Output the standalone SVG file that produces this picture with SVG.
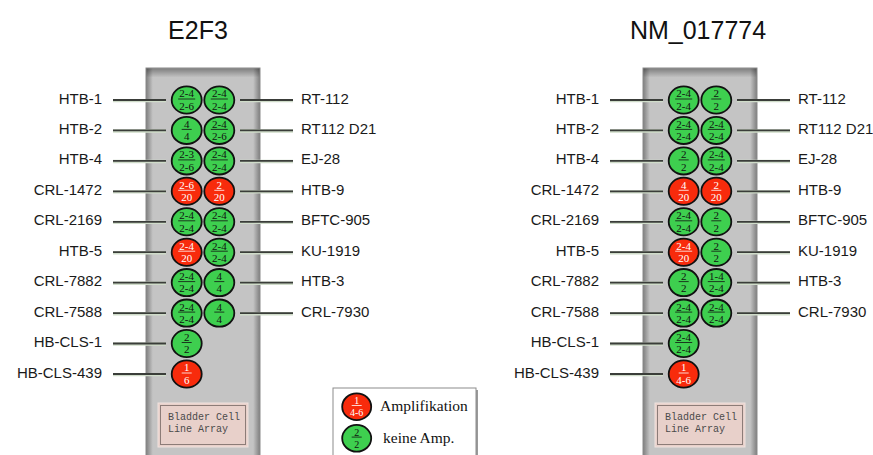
<svg xmlns="http://www.w3.org/2000/svg" width="873" height="455" viewBox="0 0 873 455">
  <defs>
    <linearGradient id="panelH" x1="0" y1="0" x2="1" y2="0">
      <stop offset="0" stop-color="#7e7e7e"/>
      <stop offset="0.06" stop-color="#c4c4c4"/>
      <stop offset="0.94" stop-color="#c4c4c4"/>
      <stop offset="1" stop-color="#7e7e7e"/>
    </linearGradient>
    <linearGradient id="panelTop" x1="0" y1="0" x2="0" y2="1">
      <stop offset="0" stop-color="#000" stop-opacity="0.35"/>
      <stop offset="1" stop-color="#000" stop-opacity="0"/>
    </linearGradient>
    <style>
      .title{font-family:"Liberation Sans",Arial,sans-serif;font-size:25px;fill:#111;text-anchor:middle}
      .lbl{font-family:"Liberation Sans",Arial,sans-serif;font-size:15px;fill:#1a1a1a}
      .lblL{text-anchor:end}
      .panel{fill:url(#panelH);stroke:#8a8a8a;stroke-width:1}
      .conn line{stroke:#cfdcc9;stroke-width:3.4}
      .conn line.core{stroke:#3a3d39;stroke-width:1.8}
      .cell ellipse{stroke:#111;stroke-width:1.8}
      .cell text{font-family:"Liberation Serif","Times New Roman",serif;font-size:11px;text-anchor:middle;fill:#111}
      .cell line{stroke:#111;stroke-width:0.8}
      .g ellipse{fill:#3ecf4f}
      .r ellipse{fill:#f82b0c}
      .r text{fill:#fff}
      .r line{stroke:#fff}
      .legend .cell text{font-size:10px}
      .tag rect.o{fill:#e8d0ca;stroke:#f0e2de;stroke-width:1}
      .tag rect.i{fill:none;stroke:#8c7c78;stroke-width:1}
      .tag text{font-family:"Liberation Mono","Courier New",monospace;font-size:10px;fill:#4a4a4a}
      .legend text.key{font-family:"Liberation Serif","Times New Roman",serif;font-size:15.5px;fill:#111}
    </style>
  </defs>

  <rect width="873" height="455" fill="#fff"/>

  <!-- titles -->
  <text class="title" x="198" y="39">E2F3</text>
  <text class="title" x="698" y="39">NM_017774</text>

  <!-- array strips -->
  <g id="panel-e2f3">
    <rect class="panel" x="146" y="68" width="114" height="400"/>
    <rect x="146.5" y="68.5" width="113" height="9" fill="url(#panelTop)"/>
  </g>
  <g id="panel-nm017774">
    <rect class="panel" x="643" y="68" width="114" height="400"/>
    <rect x="643.5" y="68.5" width="113" height="9" fill="url(#panelTop)"/>
  </g>

  <!-- connectors: cell-line names to their spots -->
  <g id="connectors" class="conn">
    <!-- E2F3, left column -->
    <line x1="113" y1="100.6" x2="166" y2="100.6"/><line class="core" x1="113" y1="100" x2="166" y2="100"/>
    <line x1="113" y1="131" x2="166" y2="131"/><line class="core" x1="113" y1="130.4" x2="166" y2="130.4"/>
    <line x1="113" y1="161.5" x2="166" y2="161.5"/><line class="core" x1="113" y1="160.9" x2="166" y2="160.9"/>
    <line x1="113" y1="191.9" x2="166" y2="191.9"/><line class="core" x1="113" y1="191.3" x2="166" y2="191.3"/>
    <line x1="113" y1="222.4" x2="166" y2="222.4"/><line class="core" x1="113" y1="221.8" x2="166" y2="221.8"/>
    <line x1="113" y1="252.8" x2="166" y2="252.8"/><line class="core" x1="113" y1="252.2" x2="166" y2="252.2"/>
    <line x1="113" y1="283.2" x2="166" y2="283.2"/><line class="core" x1="113" y1="282.6" x2="166" y2="282.6"/>
    <line x1="113" y1="313.7" x2="166" y2="313.7"/><line class="core" x1="113" y1="313.1" x2="166" y2="313.1"/>
    <line x1="113" y1="344.1" x2="166" y2="344.1"/><line class="core" x1="113" y1="343.5" x2="166" y2="343.5"/>
    <line x1="113" y1="374.6" x2="166" y2="374.6"/><line class="core" x1="113" y1="374" x2="166" y2="374"/>
    <!-- E2F3, right column -->
    <line x1="240" y1="100.6" x2="293" y2="100.6"/><line class="core" x1="240" y1="100" x2="293" y2="100"/>
    <line x1="240" y1="131" x2="293" y2="131"/><line class="core" x1="240" y1="130.4" x2="293" y2="130.4"/>
    <line x1="240" y1="161.5" x2="293" y2="161.5"/><line class="core" x1="240" y1="160.9" x2="293" y2="160.9"/>
    <line x1="240" y1="191.9" x2="293" y2="191.9"/><line class="core" x1="240" y1="191.3" x2="293" y2="191.3"/>
    <line x1="240" y1="222.4" x2="293" y2="222.4"/><line class="core" x1="240" y1="221.8" x2="293" y2="221.8"/>
    <line x1="240" y1="252.8" x2="293" y2="252.8"/><line class="core" x1="240" y1="252.2" x2="293" y2="252.2"/>
    <line x1="240" y1="283.2" x2="293" y2="283.2"/><line class="core" x1="240" y1="282.6" x2="293" y2="282.6"/>
    <line x1="240" y1="313.7" x2="293" y2="313.7"/><line class="core" x1="240" y1="313.1" x2="293" y2="313.1"/>
    <!-- NM_017774, left column -->
    <line x1="610" y1="100.6" x2="663" y2="100.6"/><line class="core" x1="610" y1="100" x2="663" y2="100"/>
    <line x1="610" y1="131" x2="663" y2="131"/><line class="core" x1="610" y1="130.4" x2="663" y2="130.4"/>
    <line x1="610" y1="161.5" x2="663" y2="161.5"/><line class="core" x1="610" y1="160.9" x2="663" y2="160.9"/>
    <line x1="610" y1="191.9" x2="663" y2="191.9"/><line class="core" x1="610" y1="191.3" x2="663" y2="191.3"/>
    <line x1="610" y1="222.4" x2="663" y2="222.4"/><line class="core" x1="610" y1="221.8" x2="663" y2="221.8"/>
    <line x1="610" y1="252.8" x2="663" y2="252.8"/><line class="core" x1="610" y1="252.2" x2="663" y2="252.2"/>
    <line x1="610" y1="283.2" x2="663" y2="283.2"/><line class="core" x1="610" y1="282.6" x2="663" y2="282.6"/>
    <line x1="610" y1="313.7" x2="663" y2="313.7"/><line class="core" x1="610" y1="313.1" x2="663" y2="313.1"/>
    <line x1="610" y1="344.1" x2="663" y2="344.1"/><line class="core" x1="610" y1="343.5" x2="663" y2="343.5"/>
    <line x1="610" y1="374.6" x2="663" y2="374.6"/><line class="core" x1="610" y1="374" x2="663" y2="374"/>
    <!-- NM_017774, right column -->
    <line x1="737" y1="100.6" x2="790" y2="100.6"/><line class="core" x1="737" y1="100" x2="790" y2="100"/>
    <line x1="737" y1="131" x2="790" y2="131"/><line class="core" x1="737" y1="130.4" x2="790" y2="130.4"/>
    <line x1="737" y1="161.5" x2="790" y2="161.5"/><line class="core" x1="737" y1="160.9" x2="790" y2="160.9"/>
    <line x1="737" y1="191.9" x2="790" y2="191.9"/><line class="core" x1="737" y1="191.3" x2="790" y2="191.3"/>
    <line x1="737" y1="222.4" x2="790" y2="222.4"/><line class="core" x1="737" y1="221.8" x2="790" y2="221.8"/>
    <line x1="737" y1="252.8" x2="790" y2="252.8"/><line class="core" x1="737" y1="252.2" x2="790" y2="252.2"/>
    <line x1="737" y1="283.2" x2="790" y2="283.2"/><line class="core" x1="737" y1="282.6" x2="790" y2="282.6"/>
    <line x1="737" y1="313.7" x2="790" y2="313.7"/><line class="core" x1="737" y1="313.1" x2="790" y2="313.1"/>
  </g>

  <!-- cell-line names -->
  <g id="labels-e2f3">
    <text class="lbl lblL" x="102" y="103.5">HTB-1</text>
    <text class="lbl lblL" x="102" y="133.9">HTB-2</text>
    <text class="lbl lblL" x="102" y="164.4">HTB-4</text>
    <text class="lbl lblL" x="102" y="194.8">CRL-1472</text>
    <text class="lbl lblL" x="102" y="225.3">CRL-2169</text>
    <text class="lbl lblL" x="102" y="255.7">HTB-5</text>
    <text class="lbl lblL" x="102" y="286.1">CRL-7882</text>
    <text class="lbl lblL" x="102" y="316.6">CRL-7588</text>
    <text class="lbl lblL" x="102" y="347">HB-CLS-1</text>
    <text class="lbl lblL" x="102" y="377.5">HB-CLS-439</text>
    <text class="lbl" x="301" y="103.5">RT-112</text>
    <text class="lbl" x="301" y="133.9">RT112 D21</text>
    <text class="lbl" x="301" y="164.4">EJ-28</text>
    <text class="lbl" x="301" y="194.8">HTB-9</text>
    <text class="lbl" x="301" y="225.3">BFTC-905</text>
    <text class="lbl" x="301" y="255.7">KU-1919</text>
    <text class="lbl" x="301" y="286.1">HTB-3</text>
    <text class="lbl" x="301" y="316.6">CRL-7930</text>
  </g>
  <g id="labels-nm017774">
    <text class="lbl lblL" x="599" y="103.5">HTB-1</text>
    <text class="lbl lblL" x="599" y="133.9">HTB-2</text>
    <text class="lbl lblL" x="599" y="164.4">HTB-4</text>
    <text class="lbl lblL" x="599" y="194.8">CRL-1472</text>
    <text class="lbl lblL" x="599" y="225.3">CRL-2169</text>
    <text class="lbl lblL" x="599" y="255.7">HTB-5</text>
    <text class="lbl lblL" x="599" y="286.1">CRL-7882</text>
    <text class="lbl lblL" x="599" y="316.6">CRL-7588</text>
    <text class="lbl lblL" x="599" y="347">HB-CLS-1</text>
    <text class="lbl lblL" x="599" y="377.5">HB-CLS-439</text>
    <text class="lbl" x="798" y="103.5">RT-112</text>
    <text class="lbl" x="798" y="133.9">RT112 D21</text>
    <text class="lbl" x="798" y="164.4">EJ-28</text>
    <text class="lbl" x="798" y="194.8">HTB-9</text>
    <text class="lbl" x="798" y="225.3">BFTC-905</text>
    <text class="lbl" x="798" y="255.7">KU-1919</text>
    <text class="lbl" x="798" y="286.1">HTB-3</text>
    <text class="lbl" x="798" y="316.6">CRL-7930</text>
  </g>

  <!-- E2F3 spots: copy-number fractions -->
  <g id="e2f3-htb-1" class="cell g" transform="translate(186.7,100)"><ellipse rx="15" ry="13.6"/><text y="-2.6">2-4</text><line x1="-8.5" y1="-1" x2="8.5" y2="-1"/><text y="9.8">2-6</text></g>
  <g id="e2f3-htb-2" class="cell g" transform="translate(186.7,130.4)"><ellipse rx="15" ry="13.6"/><text y="-2.6">4</text><line x1="-5" y1="-1" x2="5" y2="-1"/><text y="9.8">4</text></g>
  <g id="e2f3-htb-4" class="cell g" transform="translate(186.7,160.9)"><ellipse rx="15" ry="13.6"/><text y="-2.6">2-3</text><line x1="-8.5" y1="-1" x2="8.5" y2="-1"/><text y="9.8">2-6</text></g>
  <g id="e2f3-crl-1472" class="cell r" transform="translate(186.7,191.3)"><ellipse rx="15" ry="13.6"/><text y="-2.6">2-6</text><line x1="-8.5" y1="-1" x2="8.5" y2="-1"/><text y="9.8">20</text></g>
  <g id="e2f3-crl-2169" class="cell g" transform="translate(186.7,221.8)"><ellipse rx="15" ry="13.6"/><text y="-2.6">2-4</text><line x1="-8.5" y1="-1" x2="8.5" y2="-1"/><text y="9.8">2-4</text></g>
  <g id="e2f3-htb-5" class="cell r" transform="translate(186.7,252.2)"><ellipse rx="15" ry="13.6"/><text y="-2.6">2-4</text><line x1="-8.5" y1="-1" x2="8.5" y2="-1"/><text y="9.8">20</text></g>
  <g id="e2f3-crl-7882" class="cell g" transform="translate(186.7,282.6)"><ellipse rx="15" ry="13.6"/><text y="-2.6">2-4</text><line x1="-8.5" y1="-1" x2="8.5" y2="-1"/><text y="9.8">2-4</text></g>
  <g id="e2f3-crl-7588" class="cell g" transform="translate(186.7,313.1)"><ellipse rx="15" ry="13.6"/><text y="-2.6">2-4</text><line x1="-8.5" y1="-1" x2="8.5" y2="-1"/><text y="9.8">2-4</text></g>
  <g id="e2f3-hb-cls-1" class="cell g" transform="translate(186.7,343.5)"><ellipse rx="15" ry="13.6"/><text y="-2.6">2</text><line x1="-5" y1="-1" x2="5" y2="-1"/><text y="9.8">2</text></g>
  <g id="e2f3-hb-cls-439" class="cell r" transform="translate(186.7,374)"><ellipse rx="15" ry="13.6"/><text y="-2.6">1</text><line x1="-5" y1="-1" x2="5" y2="-1"/><text y="9.8">6</text></g>
  <g id="e2f3-rt-112" class="cell g" transform="translate(219.3,100)"><ellipse rx="15" ry="13.6"/><text y="-2.6">2-4</text><line x1="-8.5" y1="-1" x2="8.5" y2="-1"/><text y="9.8">2-4</text></g>
  <g id="e2f3-rt112-d21" class="cell g" transform="translate(219.3,130.4)"><ellipse rx="15" ry="13.6"/><text y="-2.6">2-4</text><line x1="-8.5" y1="-1" x2="8.5" y2="-1"/><text y="9.8">2-6</text></g>
  <g id="e2f3-ej-28" class="cell g" transform="translate(219.3,160.9)"><ellipse rx="15" ry="13.6"/><text y="-2.6">2-4</text><line x1="-8.5" y1="-1" x2="8.5" y2="-1"/><text y="9.8">2-4</text></g>
  <g id="e2f3-htb-9" class="cell r" transform="translate(219.3,191.3)"><ellipse rx="15" ry="13.6"/><text y="-2.6">2</text><line x1="-5" y1="-1" x2="5" y2="-1"/><text y="9.8">20</text></g>
  <g id="e2f3-bftc-905" class="cell g" transform="translate(219.3,221.8)"><ellipse rx="15" ry="13.6"/><text y="-2.6">2-4</text><line x1="-8.5" y1="-1" x2="8.5" y2="-1"/><text y="9.8">2-4</text></g>
  <g id="e2f3-ku-1919" class="cell g" transform="translate(219.3,252.2)"><ellipse rx="15" ry="13.6"/><text y="-2.6">2-4</text><line x1="-8.5" y1="-1" x2="8.5" y2="-1"/><text y="9.8">2-4</text></g>
  <g id="e2f3-htb-3" class="cell g" transform="translate(219.3,282.6)"><ellipse rx="15" ry="13.6"/><text y="-2.6">4</text><line x1="-5" y1="-1" x2="5" y2="-1"/><text y="9.8">4</text></g>
  <g id="e2f3-crl-7930" class="cell g" transform="translate(219.3,313.1)"><ellipse rx="15" ry="13.6"/><text y="-2.6">4</text><line x1="-5" y1="-1" x2="5" y2="-1"/><text y="9.8">4</text></g>

  <!-- NM_017774 spots -->
  <g id="nm-htb-1" class="cell g" transform="translate(683.7,100)"><ellipse rx="15" ry="13.6"/><text y="-2.6">2-4</text><line x1="-8.5" y1="-1" x2="8.5" y2="-1"/><text y="9.8">2-4</text></g>
  <g id="nm-htb-2" class="cell g" transform="translate(683.7,130.4)"><ellipse rx="15" ry="13.6"/><text y="-2.6">2-4</text><line x1="-8.5" y1="-1" x2="8.5" y2="-1"/><text y="9.8">2-4</text></g>
  <g id="nm-htb-4" class="cell g" transform="translate(683.7,160.9)"><ellipse rx="15" ry="13.6"/><text y="-2.6">2</text><line x1="-5" y1="-1" x2="5" y2="-1"/><text y="9.8">2</text></g>
  <g id="nm-crl-1472" class="cell r" transform="translate(683.7,191.3)"><ellipse rx="15" ry="13.6"/><text y="-2.6">4</text><line x1="-5" y1="-1" x2="5" y2="-1"/><text y="9.8">20</text></g>
  <g id="nm-crl-2169" class="cell g" transform="translate(683.7,221.8)"><ellipse rx="15" ry="13.6"/><text y="-2.6">2-4</text><line x1="-8.5" y1="-1" x2="8.5" y2="-1"/><text y="9.8">2-4</text></g>
  <g id="nm-htb-5" class="cell r" transform="translate(683.7,252.2)"><ellipse rx="15" ry="13.6"/><text y="-2.6">2-4</text><line x1="-8.5" y1="-1" x2="8.5" y2="-1"/><text y="9.8">20</text></g>
  <g id="nm-crl-7882" class="cell g" transform="translate(683.7,282.6)"><ellipse rx="15" ry="13.6"/><text y="-2.6">2</text><line x1="-5" y1="-1" x2="5" y2="-1"/><text y="9.8">2</text></g>
  <g id="nm-crl-7588" class="cell g" transform="translate(683.7,313.1)"><ellipse rx="15" ry="13.6"/><text y="-2.6">2-4</text><line x1="-8.5" y1="-1" x2="8.5" y2="-1"/><text y="9.8">2-4</text></g>
  <g id="nm-hb-cls-1" class="cell g" transform="translate(683.7,343.5)"><ellipse rx="15" ry="13.6"/><text y="-2.6">2-4</text><line x1="-8.5" y1="-1" x2="8.5" y2="-1"/><text y="9.8">2-4</text></g>
  <g id="nm-hb-cls-439" class="cell r" transform="translate(683.7,374)"><ellipse rx="15" ry="13.6"/><text y="-2.6">1</text><line x1="-5" y1="-1" x2="5" y2="-1"/><text y="9.8">4-6</text></g>
  <g id="nm-rt-112" class="cell g" transform="translate(716.3,100)"><ellipse rx="15" ry="13.6"/><text y="-2.6">2</text><line x1="-5" y1="-1" x2="5" y2="-1"/><text y="9.8">2</text></g>
  <g id="nm-rt112-d21" class="cell g" transform="translate(716.3,130.4)"><ellipse rx="15" ry="13.6"/><text y="-2.6">2-4</text><line x1="-8.5" y1="-1" x2="8.5" y2="-1"/><text y="9.8">2-4</text></g>
  <g id="nm-ej-28" class="cell g" transform="translate(716.3,160.9)"><ellipse rx="15" ry="13.6"/><text y="-2.6">2-4</text><line x1="-8.5" y1="-1" x2="8.5" y2="-1"/><text y="9.8">2-4</text></g>
  <g id="nm-htb-9" class="cell r" transform="translate(716.3,191.3)"><ellipse rx="15" ry="13.6"/><text y="-2.6">2</text><line x1="-5" y1="-1" x2="5" y2="-1"/><text y="9.8">20</text></g>
  <g id="nm-bftc-905" class="cell g" transform="translate(716.3,221.8)"><ellipse rx="15" ry="13.6"/><text y="-2.6">2</text><line x1="-5" y1="-1" x2="5" y2="-1"/><text y="9.8">2</text></g>
  <g id="nm-ku-1919" class="cell g" transform="translate(716.3,252.2)"><ellipse rx="15" ry="13.6"/><text y="-2.6">2</text><line x1="-5" y1="-1" x2="5" y2="-1"/><text y="9.8">2</text></g>
  <g id="nm-htb-3" class="cell g" transform="translate(716.3,282.6)"><ellipse rx="15" ry="13.6"/><text y="-2.6">1-4</text><line x1="-8.5" y1="-1" x2="8.5" y2="-1"/><text y="9.8">2-4</text></g>
  <g id="nm-crl-7930" class="cell g" transform="translate(716.3,313.1)"><ellipse rx="15" ry="13.6"/><text y="-2.6">2-4</text><line x1="-8.5" y1="-1" x2="8.5" y2="-1"/><text y="9.8">2-4</text></g>

  <!-- array name plates -->
  <g id="tag-e2f3" class="tag">
    <rect class="o" x="158" y="403" width="90" height="44"/>
    <rect class="i" x="160.5" y="405.5" width="85" height="39"/>
    <text x="168" y="420">Bladder Cell</text>
    <text x="168" y="431.5">Line Array</text>
  </g>
  <g id="tag-nm017774" class="tag">
    <rect class="o" x="655" y="403" width="90" height="44"/>
    <rect class="i" x="657.5" y="405.5" width="85" height="39"/>
    <text x="665" y="420">Bladder Cell</text>
    <text x="665" y="431.5">Line Array</text>
  </g>

  <!-- legend -->
  <g id="legend" class="legend">
    <rect x="335" y="390" width="143" height="80" fill="#9a9a9a"/>
    <rect x="333" y="388" width="143" height="80" fill="#fff" stroke="#8c8c8c" stroke-width="1"/>
    <g id="legend-amp" class="cell r" transform="translate(356.7,406.7)"><ellipse rx="14.5" ry="13.4"/><text y="-2.6">1</text><line x1="-5" y1="-1.2" x2="5" y2="-1.2"/><text y="9.6">4-6</text></g>
    <g id="legend-noamp" class="cell g" transform="translate(356.7,438.3)"><ellipse rx="14.5" ry="13.4"/><text y="-2.6">2</text><line x1="-5" y1="-1.2" x2="5" y2="-1.2"/><text y="9.6">2</text></g>
    <text class="key" x="380" y="411">Amplifikation</text>
    <text class="key" x="383" y="443">keine Amp.</text>
  </g>
</svg>
